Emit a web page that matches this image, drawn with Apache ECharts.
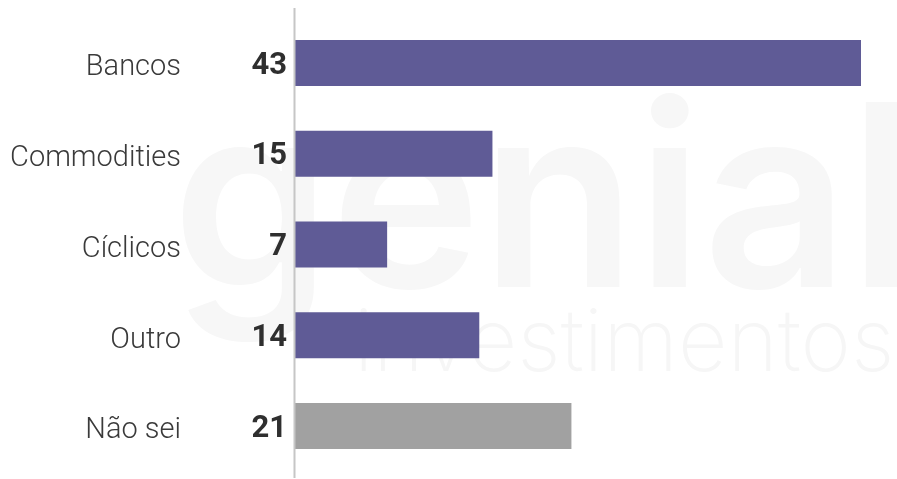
<!DOCTYPE html>
<html>
<head>
<meta charset="utf-8">
<script src="https://cdn.jsdelivr.net/npm/echarts@6/dist/echarts.min.js"></script>
<style>
  html, body { margin: 0; padding: 0; background: #fff; }
  #chart { width: 897px; height: 479px; }
</style>
</head>
<body>
<div id="chart"></div>
<script>
// dados
var categorias = ['Bancos', 'Commodities', 'Cíclicos', 'Outro', 'Não sei'];
var valores = [43, 15, 7, 14, 21];
var cores = ['#5f5b96', '#5f5b96', '#5f5b96', '#5f5b96', '#a1a1a1'];

var chart = echarts.init(document.getElementById('chart'));

var option = {
    backgroundColor: '#fff',
    animation: false,
    graphic: [
        // marca d'agua
        {
            type: 'text', left: 172, top: 84, z: -10, silent: true,
            style: { text: 'genial', font: '600 254px Inter, sans-serif', fill: '#f7f7f7' }
        },
        {
            type: 'text', left: 354, top: 302, z: -10, silent: true,
            style: { text: 'investimentos', font: '200 86px Inter, sans-serif', fill: '#f6f6f6' }
        },
        {
            type: 'line', z: 5, silent: true,
            shape: { x1: 294.5, y1: 8, x2: 294.5, y2: 478 },
            style: { stroke: '#c6c6c6', lineWidth: 2 }
        }
    ],
    grid: { left: 295, right: 36, top: 17.5, bottom: 7.5, containLabel: false },
    xAxis: {
        type: 'value',
        min: 0,
        max: 'dataMax',
        show: false
    },
    yAxis: {
        type: 'category',
        inverse: true,
        data: categorias,
        axisLine: { show: false },
        axisTick: { show: false },
        axisLabel: {
            margin: 114,
            formatter: function (v) { return '{n|' + v + '}'; },
            rich: {
                n: {
                    color: '#3a3a3a',
                    fontFamily: 'Roboto',
                    fontWeight: 300,
                    fontSize: 29,
                    padding: [10, 0, 0, 0]
                }
            }
        }
    },
    series: [{
        type: 'bar',
        barWidth: 46,
        data: valores.map(function (v, i) {
            return { value: v, itemStyle: { color: cores[i] } };
        }),
        label: {
            show: true,
            position: 'left',
            distance: 8,
            formatter: '{v|{c}}',
            rich: {
                v: {
                    color: '#2f2f2f',
                    fontFamily: 'Roboto',
                    fontWeight: 'bold',
                    fontSize: 31,
                    padding: [6, 0, 0, 0]
                }
            }
        }
    }]
};

chart.setOption(option);
</script>
</body>
</html>
